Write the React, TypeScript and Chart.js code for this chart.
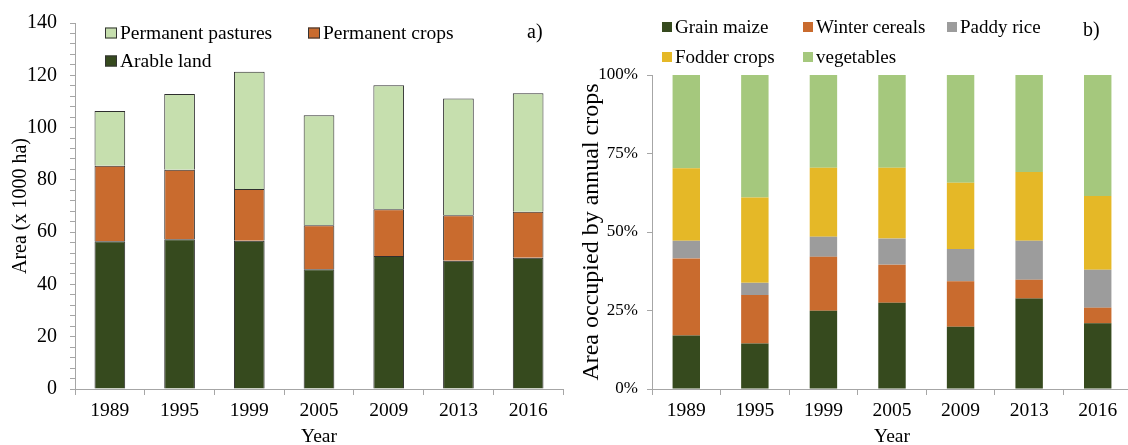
import React, { useEffect, useRef } from "react";
import { Chart, registerables } from "chart.js";

Chart.register(...registerables);

// ---------- Data ----------
const years = ["1989", "1995", "1999", "2005", "2009", "2013", "2016"];

// panel a) area (x 1000 ha)
const arableLand = [56.5, 57.3, 56.7, 45.8, 50.9, 49.1, 50.2];
const permanentCrops = [28.9, 26.6, 19.8, 16.8, 17.9, 17.4, 17.6];
const permanentPastures = [20.9, 28.9, 44.9, 42.1, 47.4, 44.6, 45.3];

// panel b) share of annual crops (%)
const grainMaize = [17.0, 14.5, 24.9, 27.5, 19.8, 28.8, 20.9];
const winterCereals = [24.6, 15.4, 17.2, 12.1, 14.5, 6.0, 5.0];
const paddyRice = [5.6, 3.9, 6.4, 8.3, 10.3, 12.4, 12.1];
const fodderCrops = [23.1, 27.2, 22.0, 22.6, 21.1, 21.9, 23.5];
const vegetables = [29.7, 39.0, 29.5, 29.5, 34.3, 30.9, 38.5];

const FONT = "'Liberation Serif', 'Times New Roman', serif";
const AXIS_GRAY = "#a6a6a6";

const COLORS = {
  darkGreen: "#364a1e",
  orange: "#c96b2e",
  lightGreen: "#c6dfae",
  vegGreen: "#a5c87d",
  gold: "#e5b827",
  gray: "#9c9c9c",
};

const boxLegend = {
  id: "boxLegend",
  afterDraw(chart: any, _args: any, opts: any) {
    if (!opts || !opts.items) return;
    const ctx = chart.ctx as CanvasRenderingContext2D;
    ctx.save();
    ctx.font = `${opts.fontSize}px ${FONT}`;
    ctx.textBaseline = "middle";
    ctx.textAlign = "left";
    for (const it of opts.items) {
      const ds = chart.data.datasets[it.dataset];
      ctx.fillStyle = ds.backgroundColor;
      ctx.fillRect(it.x, it.y - opts.boxH / 2, opts.boxW, opts.boxH);
      if (opts.border) {
        ctx.strokeStyle = "#333333";
        ctx.lineWidth = 1;
        ctx.strokeRect(it.x + 0.5, it.y - opts.boxH / 2 + 0.5, opts.boxW - 1, opts.boxH - 1);
      }
      ctx.fillStyle = "#000";
      ctx.fillText(ds.label, it.x + opts.boxW + 3, it.y + 1);
    }
    if (opts.tag) {
      ctx.font = `${opts.tag.size}px ${FONT}`;
      ctx.fillText(opts.tag.text, opts.tag.x, opts.tag.y);
    }
    ctx.restore();
  },
};

function useChart(ref: React.RefObject<HTMLCanvasElement>, make: () => any) {
  useEffect(() => {
    if (!ref.current) return;
    const chart = new Chart(ref.current, make());
    return () => chart.destroy();
  }, []);
}

function LeftChart() {
  const ref = useRef<HTMLCanvasElement>(null);
  useChart(ref, () => ({
    type: "bar",
    data: {
      labels: years,
      datasets: [
        { label: "Arable land", data: arableLand, backgroundColor: COLORS.darkGreen },
        { label: "Permanent crops", data: permanentCrops, backgroundColor: COLORS.orange },
        { label: "Permanent pastures", data: permanentPastures, backgroundColor: COLORS.lightGreen },
      ].map((d) => ({
        ...d,
        borderColor: "#2e2e2e",
        borderWidth: 1,
        categoryPercentage: 1,
        barPercentage: 0.44,
      })),
    },
    options: {
      responsive: false,
      animation: false,
      events: [],
      layout: { padding: { left: 0, right: 7, top: 19, bottom: 0 } },
      plugins: {
        legend: { display: false },
        tooltip: { enabled: false },
        boxLegend: {
          fontSize: 19.5,
          boxW: 12,
          boxH: 11,
          border: true,
          items: [
            { dataset: 2, x: 105, y: 33 },
            { dataset: 1, x: 308, y: 33 },
            { dataset: 0, x: 105, y: 61 },
          ],
          tag: { text: "a)", x: 527, y: 33, size: 20 },
        },
      },
      scales: {
        x: {
          stacked: true,
          afterFit: (s: any) => { s.height = 71; },
          grid: { drawOnChartArea: false, offset: true, color: AXIS_GRAY, tickLength: 6 },
          border: { color: AXIS_GRAY, width: 1 },
          ticks: { color: "#000", font: { family: FONT, size: 19.5 }, padding: 4 },
          title: {
            display: true,
            text: "Year",
            color: "#000",
            font: { family: FONT, size: 19.5 },
            padding: { top: 0, bottom: 11 },
          },
        },
        y: {
          stacked: true,
          min: 0,
          max: 140,
          afterFit: (s: any) => { s.width = 75; },
          grid: { drawOnChartArea: false, color: AXIS_GRAY, tickLength: 5 },
          border: { color: AXIS_GRAY, width: 1 },
          ticks: {
            stepSize: 4,
            autoSkip: false,
            color: "#000",
            font: { family: FONT, size: 20, lineHeight: 1 },
            padding: 13,
            callback: (v: number) => (v % 20 === 0 ? String(v) : ""),
          },
          title: {
            display: true,
            text: "Area (x 1000 ha)",
            color: "#000",
            font: { family: FONT, size: 20 },
            padding: { top: 9, bottom: 0 },
          },
        },
      },
    },
    plugins: [boxLegend],
  }));
  return (
    <canvas
      ref={ref}
      width={570}
      height={460}
      style={{ position: "absolute", left: 0, top: 0, width: 570, height: 460 }}
    />
  );
}

function RightChart() {
  const ref = useRef<HTMLCanvasElement>(null);
  useChart(ref, () => ({
    type: "bar",
    data: {
      labels: years,
      datasets: [
        { label: "Grain maize", data: grainMaize, backgroundColor: COLORS.darkGreen },
        { label: "Winter cereals", data: winterCereals, backgroundColor: COLORS.orange },
        { label: "Paddy rice", data: paddyRice, backgroundColor: COLORS.gray },
        { label: "Fodder crops", data: fodderCrops, backgroundColor: COLORS.gold },
        { label: "vegetables", data: vegetables, backgroundColor: COLORS.vegGreen },
      ].map((d) => ({
        ...d,
        borderWidth: 0,
        categoryPercentage: 1,
        barPercentage: 0.4,
      })),
    },
    options: {
      responsive: false,
      animation: false,
      events: [],
      layout: { padding: { left: 0, right: 8, top: 75, bottom: 0 } },
      plugins: {
        legend: { display: false },
        tooltip: { enabled: false },
        boxLegend: {
          fontSize: 19,
          boxW: 10,
          boxH: 10,
          border: false,
          items: [
            { dataset: 0, x: 102, y: 27 },
            { dataset: 1, x: 243, y: 27 },
            { dataset: 2, x: 387, y: 27 },
            { dataset: 3, x: 102, y: 57 },
            { dataset: 4, x: 243, y: 57 },
          ],
          tag: { text: "b)", x: 523, y: 31, size: 20 },
        },
      },
      scales: {
        x: {
          stacked: true,
          afterFit: (s: any) => { s.height = 71; },
          grid: { drawOnChartArea: false, offset: true, color: AXIS_GRAY, tickLength: 6 },
          border: { color: AXIS_GRAY, width: 1 },
          ticks: { color: "#000", font: { family: FONT, size: 19.5 }, padding: 4 },
          title: {
            display: true,
            text: "Year",
            color: "#000",
            font: { family: FONT, size: 19.5 },
            padding: { top: 0, bottom: 11 },
          },
        },
        y: {
          stacked: true,
          min: 0,
          max: 100,
          afterFit: (s: any) => { s.width = 92; },
          grid: { drawOnChartArea: false, color: AXIS_GRAY, tickLength: 5 },
          border: { color: AXIS_GRAY, width: 1 },
          ticks: {
            stepSize: 25,
            autoSkip: false,
            color: "#000",
            font: { family: FONT, size: 17, lineHeight: 1 },
            padding: 9,
            callback: (v: number) => `${v}%`,
          },
          title: {
            display: true,
            text: "Area occupied by annual crops",
            color: "#000",
            font: { family: FONT, size: 24 },
            padding: { top: 17, bottom: 0 },
          },
        },
      },
    },
    plugins: [boxLegend],
  }));
  return (
    <canvas
      ref={ref}
      width={580}
      height={460}
      style={{ position: "absolute", left: 560, top: 0, width: 580, height: 460 }}
    />
  );
}

export default function App() {
  return (
    <div
      style={{
        position: "fixed",
        left: 0,
        top: 0,
        width: 1128,
        height: 445,
        overflow: "hidden",
        background: "#ffffff",
      }}
    >
      <LeftChart />
      <RightChart />
    </div>
  );
}
